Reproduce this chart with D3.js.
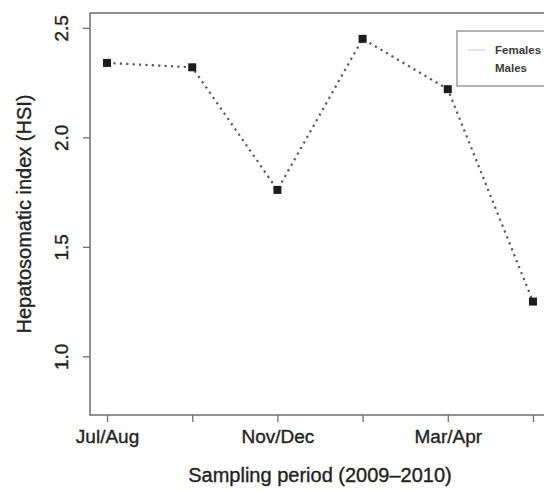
<!DOCTYPE html>
<html>
<head>
<meta charset="utf-8">
<script src="https://cdn.jsdelivr.net/npm/d3@7"></script>
<style>
  html, body { margin: 0; padding: 0; background: #fff; }
  svg { display: block; font-family: "Liberation Sans", Arial, Helvetica, sans-serif; }
  .lbl { stroke: #222; stroke-width: 0.35px; paint-order: stroke; }
</style>
</head>
<body>
<svg id="chart" width="544" height="491"></svg>
<script>
// Sampling periods (bi-monthly, 2009–2010)
const categories = ["Jul/Aug", "Sep/Oct", "Nov/Dec", "Jan/Feb", "Mar/Apr", "May/Jun"];
// Labels printed under the x ticks (alternate ones are left blank)
const xTickLabels = ["Jul/Aug", "", "Nov/Dec", "", "Mar/Apr", ""];
// Mean hepatosomatic index of males per period
const malesHSI = [2.34, 2.32, 1.76, 2.45, 2.22, 1.25];
// Y axis ticks
const yTicks = [1.0, 1.5, 2.0, 2.5];
// Legend entries
const legendNames = ["Females", "Males"];

const svg = d3.select("#chart");
const plotL = 90, plotR = 550, plotT = 13, plotB = 415;

// Index 1..n with a 4% pad on each side
const n = categories.length;
const xPad = (n - 1) * 0.04;
const x = d3.scaleLinear().domain([1 - xPad, n + xPad]).range([plotL, plotR]);
const yLim = [0.8, 2.5];
const yPad = (yLim[1] - yLim[0]) * 0.04;
const y = d3.scaleLinear().domain([yLim[0] - yPad, yLim[1] + yPad]).range([plotB, plotT]);

const textColor = "#222";
const axisColor = "#6e6e6e";

// Plot frame
svg.append("rect")
  .attr("x", plotL).attr("y", plotT)
  .attr("width", plotR - plotL).attr("height", plotB - plotT)
  .attr("fill", "none").attr("stroke", axisColor).attr("stroke-width", 1.5);

// Y axis
const yAxis = svg.append("g")
  .attr("transform", `translate(${plotL},0)`)
  .call(d3.axisLeft(y).tickValues(yTicks).tickFormat(d3.format(".1f")).tickSize(7).tickPadding(0));
yAxis.select(".domain").remove();
yAxis.selectAll(".tick line").attr("stroke", axisColor).attr("stroke-width", 1.3);
yAxis.selectAll(".tick text")
  .attr("class", "lbl")
  .attr("x", null).attr("dy", null)
  .attr("transform", "translate(-22,0) rotate(-90)")
  .attr("text-anchor", "middle")
  .attr("fill", textColor)
  .style("font-size", "19px")
  .style("font-family", "'Liberation Sans', Arial, sans-serif");

// X axis
const xAxis = svg.append("g")
  .attr("transform", `translate(0,${plotB})`)
  .call(d3.axisBottom(x).tickValues(d3.range(1, n + 1)).tickFormat((d, i) => xTickLabels[i]).tickSize(7).tickPadding(8));
xAxis.select(".domain").remove();
xAxis.selectAll(".tick line").attr("stroke", axisColor).attr("stroke-width", 1.3);
xAxis.selectAll(".tick text")
  .attr("class", "lbl")
  .attr("fill", textColor)
  .style("font-size", "19px")
  .style("font-family", "'Liberation Sans', Arial, sans-serif");

// Axis titles
svg.append("text")
  .attr("class", "lbl")
  .attr("x", (plotL + plotR) / 2).attr("y", 482)
  .attr("text-anchor", "middle")
  .attr("fill", textColor)
  .style("font-size", "20px")
  .text("Sampling period (2009\u20132010)");

svg.append("text")
  .attr("class", "lbl")
  .attr("transform", `translate(31,${(plotT + plotB) / 2}) rotate(-90)`)
  .attr("text-anchor", "middle")
  .attr("fill", textColor)
  .style("font-size", "20px")
  .text("Hepatosomatic index (HSI)");

// Males: dotted line with square markers
const pts = malesHSI.map((v, i) => [i + 1, v]);
svg.append("path")
  .datum(pts)
  .attr("d", d3.line().x(d => x(d[0])).y(d => y(d[1])))
  .attr("fill", "none")
  .attr("stroke", "#585858")
  .attr("stroke-width", 2.2)
  .attr("stroke-dasharray", "2.2,4.2");

const sz = 8;
svg.append("g").selectAll("rect")
  .data(pts)
  .join("rect")
  .attr("x", d => x(d[0]) - sz / 2)
  .attr("y", d => y(d[1]) - sz / 2)
  .attr("width", sz).attr("height", sz)
  .attr("fill", "#1c1c1c");

// Legend
const lg = svg.append("g");
lg.append("rect")
  .attr("x", 457).attr("y", 31).attr("width", 100).attr("height", 55)
  .attr("fill", "#fff").attr("stroke", "#8a8a8a").attr("stroke-width", 1.3);
lg.append("line")
  .attr("x1", 468).attr("x2", 485).attr("y1", 50).attr("y2", 50)
  .attr("stroke", "#dcdcdc").attr("stroke-width", 1.5);
lg.selectAll("text.lab")
  .data(legendNames)
  .join("text")
  .attr("class", "lab")
  .attr("x", 495)
  .attr("y", (d, i) => 54 + i * 18)
  .attr("fill", "#3a3a3a")
  .style("font-size", "11.5px")
  .style("font-weight", "bold")
  .text(d => d);
</script>
</body>
</html>
